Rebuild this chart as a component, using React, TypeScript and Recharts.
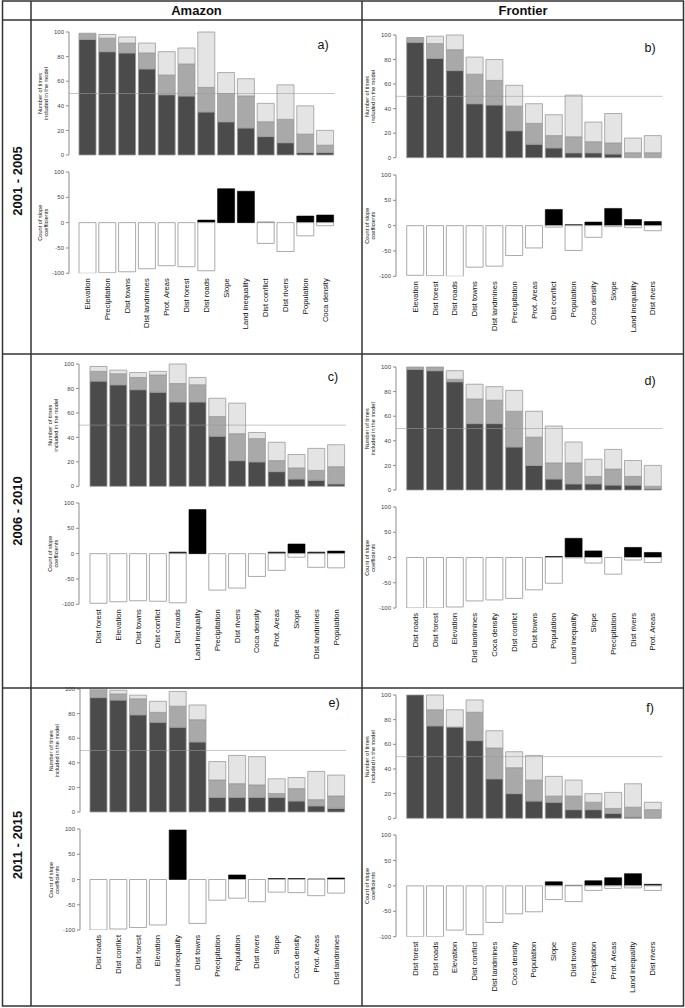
import React from 'react';
import { BarChart, Bar, XAxis, YAxis, ReferenceLine } from 'recharts';

const FONT = '"Liberation Sans", Arial, Helvetica, sans-serif';
const DARK = '#4b4b4b';
const MID = '#a9a9a9';
const LIGHT = '#e4e4e4';
const EDGE = '#9a9a9a';
const AXIS = '#8c8c8c';
const PITCH = 19.8;
const YW = 40;

// a) Amazon 2001 - 2005
const catsA = ['Elevation', 'Precipitation', 'Dist towns', 'Dist landmines', 'Prot. Areas', 'Dist forest', 'Dist roads', 'Slope', 'Land inequality', 'Dist conflict', 'Dist rivers', 'Population', 'Coca density'];
const darkA = [94, 84, 83, 70, 49, 48, 35, 27, 22, 15, 10, 2, 2];
const midA = [5, 11, 8, 13, 16, 26, 20, 23, 26, 12, 19, 15, 6];
const lightA = [0, 3, 5, 8, 19, 13, 45, 17, 14, 15, 28, 23, 12];
const posA = [0, 0, 0, 0, 0, 0, 5, 67, 62, 1, 0, 13, 15];
const negA = [-100, -99, -97, -91, -85, -87, -95, 0, 0, -41, -57, -26, -6];

// b) Frontier 2001 - 2005
const catsB = ['Elevation', 'Dist forest', 'Dist roads', 'Dist towns', 'Dist landmines', 'Precipitation', 'Prot. Areas', 'Dist conflict', 'Population', 'Coca density', 'Slope', 'Land inequality', 'Dist rivers'];
const darkB = [94, 81, 71, 44, 43, 22, 11, 8, 4, 4, 3, 0, 0];
const midB = [4, 12, 17, 24, 20, 20, 17, 10, 13, 9, 9, 4, 4];
const lightB = [0, 6, 12, 14, 17, 17, 16, 17, 34, 16, 24, 12, 14];
const posB = [0, 0, 0, 0, 0, 0, 0, 32, 2, 7, 34, 12, 8];
const negB = [-98, -99, -100, -82, -80, -59, -44, -3, -49, -23, -2, -4, -10];

// c) Amazon 2006 - 2010
const catsC = ['Dist forest', 'Elevation', 'Dist towns', 'Dist conflict', 'Dist roads', 'Land inequality', 'Precipitation', 'Dist rivers', 'Coca density', 'Prot. Areas', 'Slope', 'Dist landmines', 'Population'];
const darkC = [86, 83, 79, 77, 69, 69, 41, 21, 20, 12, 6, 5, 2];
const midC = [8, 9, 10, 14, 15, 14, 16, 22, 19, 9, 9, 8, 14];
const lightC = [4, 3, 4, 3, 16, 6, 15, 25, 5, 15, 11, 18, 18];
const posC = [0, 0, 0, 0, 3, 87, 0, 0, 0, 3, 19, 3, 5];
const negC = [-98, -95, -93, -94, -97, 0, -72, -68, -45, -33, -7, -27, -28];

// d) Frontier 2006 - 2010
const catsD = ['Dist roads', 'Dist forest', 'Elevation', 'Dist landmines', 'Coca density', 'Dist conflict', 'Dist towns', 'Population', 'Land inequality', 'Slope', 'Precipitation', 'Dist rivers', 'Prot. Areas'];
const darkD = [98, 97, 88, 54, 54, 35, 20, 9, 5, 5, 4, 4, 1];
const midD = [2, 3, 2, 20, 19, 29, 23, 13, 17, 6, 13, 7, 2];
const lightD = [0, 0, 7, 12, 11, 17, 21, 30, 17, 14, 16, 13, 17];
const posD = [0, 0, 0, 0, 0, 0, 0, 2, 38, 13, 0, 20, 10];
const negD = [-100, -100, -98, -86, -84, -81, -64, -51, -1, -11, -33, -5, -10];

// e) Amazon 2011 - 2015
const catsE = ['Dist roads', 'Dist conflict', 'Dist forest', 'Elevation', 'Land inequality', 'Dist towns', 'Precipitation', 'Population', 'Dist rivers', 'Slope', 'Coca density', 'Prot. Areas', 'Dist landmines'];
const darkE = [93, 91, 79, 73, 69, 57, 12, 12, 12, 12, 9, 5, 3];
const midE = [6, 5, 13, 8, 17, 18, 14, 11, 10, 3, 10, 5, 10];
const lightE = [1, 3, 3, 9, 12, 12, 15, 23, 23, 12, 9, 23, 17];
const posE = [0, 0, 0, 0, 98, 0, 0, 9, 0, 2, 2, 1, 3];
const negE = [-100, -98, -95, -90, 0, -87, -41, -37, -44, -25, -26, -32, -27];

// f) Frontier 2011 - 2015
const catsF = ['Dist forest', 'Dist roads', 'Elevation', 'Dist conflict', 'Dist landmines', 'Coca density', 'Population', 'Slope', 'Dist towns', 'Precipitation', 'Prot. Areas', 'Land inequality', 'Dist rivers'];
const darkF = [100, 75, 74, 63, 32, 20, 14, 13, 7, 7, 4, 1, 0];
const midF = [0, 13, 0, 23, 25, 21, 17, 5, 11, 6, 4, 8, 7];
const lightF = [0, 12, 14, 10, 14, 13, 20, 16, 13, 7, 13, 19, 6];
const posF = [0, 0, 0, 0, 0, 0, 0, 8, 1, 10, 16, 24, 3];
const negF = [-100, -100, -87, -96, -72, -55, -51, -27, -31, -9, -5, -4, -9];

const topTicks = [0, 20, 40, 60, 80, 100];
const slopeTicks = [-100, -50, 0, 50, 100];
const columns = ['Amazon', 'Frontier'];
const periods = ['2001 - 2005', '2006 - 2010', '2011 - 2015'];

type Panel = {
  letter: string;
  cats: string[];
  dark: number[];
  mid: number[];
  light: number[];
  pos: number[];
  neg: number[];
  ax: number;
  pad: number;
  top100: number;
  top0: number;
  bot100: number;
  botM100: number;
};

const panels: Panel[] = [
  { letter: 'a)', cats: catsA, dark: darkA, mid: midA, light: lightA, pos: posA, neg: negA, ax: 69, pad: 8.45, top100: 32, top0: 155, bot100: 172, botM100: 273.3 },
  { letter: 'b)', cats: catsB, dark: darkB, mid: midB, light: lightB, pos: posB, neg: negB, ax: 396, pad: 9.15, top100: 35, top0: 157.7, bot100: 175, botM100: 276.3 },
  { letter: 'c)', cats: catsC, dark: darkC, mid: midC, light: lightC, pos: posC, neg: negC, ax: 79, pad: 9.45, top100: 364, top0: 486.3, bot100: 503, botM100: 604.3 },
  { letter: 'd)', cats: catsD, dark: darkD, mid: midD, light: lightD, pos: posD, neg: negD, ax: 396, pad: 9.15, top100: 367.3, top0: 490.3, bot100: 507.3, botM100: 608.3 },
  { letter: 'e)', cats: catsE, dark: darkE, mid: midE, light: lightE, pos: posE, neg: negE, ax: 80, pad: 8.45, top100: 689.3, top0: 812.3, bot100: 829.3, botM100: 930.3 },
  { letter: 'f)', cats: catsF, dark: darkF, mid: midF, light: lightF, pos: posF, neg: negF, ax: 396, pad: 9.15, top100: 695, top0: 818.3, bot100: 835, botM100: 936.7 },
];

const tickStyle = { fontSize: 6, fill: '#444', fontFamily: FONT };

const CatTick = (props: any) => {
  const { x, y, payload } = props;
  return (
    <text
      x={x}
      y={y}
      transform={`rotate(-90 ${x} ${y})`}
      textAnchor="end"
      dy="0.35em"
      fontSize={7.6}
      fontFamily={FONT}
      fill="#111"
    >
      {payload.value}
    </text>
  );
};

function TopChart({ p }: { p: Panel }) {
  const data = p.cats.map((c, i) => ({ name: c, dark: p.dark[i], mid: p.mid[i], light: p.light[i] }));
  const plotH = p.top0 - p.top100;
  const plotW = p.pad + PITCH * p.cats.length;
  return (
    <div style={{ position: 'absolute', left: p.ax - YW, top: p.top100 - 6 }}>
      <BarChart
        width={YW + plotW + 4}
        height={plotH + 12}
        data={data}
        margin={{ top: 6, right: 4, bottom: 6, left: 0 }}
        barCategoryGap={1.55}
      >
        <XAxis dataKey="name" hide padding={{ left: p.pad, right: 0 }} />
        <YAxis
          domain={[0, 100]}
          ticks={topTicks}
          interval={0}
          width={YW}
          tickSize={3}
          tickMargin={2}
          axisLine={{ stroke: AXIS }}
          tickLine={{ stroke: AXIS }}
          tick={tickStyle}
        />
        <Bar dataKey="dark" stackId="s" fill={DARK} stroke={EDGE} strokeWidth={0.8} isAnimationActive={false} />
        <Bar dataKey="mid" stackId="s" fill={MID} stroke={EDGE} strokeWidth={0.8} isAnimationActive={false} />
        <Bar dataKey="light" stackId="s" fill={LIGHT} stroke={EDGE} strokeWidth={0.8} isAnimationActive={false} />
        <ReferenceLine y={50} stroke="#9a9a9a" strokeOpacity={0.7} strokeWidth={0.8} />
      </BarChart>
    </div>
  );
}

function SlopeChart({ p }: { p: Panel }) {
  const data = p.cats.map((c, i) => ({ name: c, pos: p.pos[i], neg: p.neg[i] }));
  const plotH = p.botM100 - p.bot100;
  const plotW = p.pad + PITCH * p.cats.length;
  return (
    <div style={{ position: 'absolute', left: p.ax - YW, top: p.bot100 - 6 }}>
      <BarChart
        width={YW + plotW + 4}
        height={plotH + 6 + 68}
        data={data}
        margin={{ top: 6, right: 4, bottom: 0, left: 0 }}
        stackOffset="sign"
        barCategoryGap={1.55}
      >
        <XAxis
          dataKey="name"
          padding={{ left: p.pad, right: 0 }}
          axisLine={false}
          tickLine={false}
          tickSize={0}
          tickMargin={5}
          height={68}
          interval={0}
          tick={<CatTick />}
        />
        <YAxis
          domain={[-100, 100]}
          ticks={slopeTicks}
          interval={0}
          allowDataOverflow
          width={YW}
          tickSize={3}
          tickMargin={2}
          axisLine={{ stroke: AXIS }}
          tickLine={{ stroke: AXIS }}
          tick={tickStyle}
        />
        <Bar dataKey="pos" stackId="s" fill="#000" stroke="#000" strokeWidth={0.6} isAnimationActive={false} />
        <Bar dataKey="neg" stackId="s" fill="#fff" stroke="#aaaaaa" strokeWidth={1} isAnimationActive={false} />
      </BarChart>
    </div>
  );
}

function RotText({ x, y, size, bold, children }: { x: number; y: number; size: number; bold?: boolean; children: string }) {
  return (
    <text
      x={x}
      y={y}
      transform={`rotate(-90 ${x} ${y})`}
      textAnchor="middle"
      dy="0.35em"
      fontSize={size}
      fontWeight={bold ? 'bold' : 'normal'}
      fontFamily={FONT}
      fill="#111"
    >
      {children}
    </text>
  );
}

function Frame() {
  const rows = [20, 354, 688];
  const rowMid = [181, 511, 845];
  return (
    <svg width={685} height={1008} style={{ position: 'absolute', left: 0, top: 0, pointerEvents: 'none' }}>
      <rect x={2.5} y={1} width={681} height={1005} fill="none" stroke="#333" strokeWidth={1.5} />
      <line x1={31} y1={1} x2={31} y2={1006} stroke="#333" strokeWidth={1.5} />
      <line x1={362} y1={1} x2={362} y2={1006} stroke="#333" strokeWidth={1.5} />
      {rows.map((y) => (
        <line key={y} x1={2.5} y1={y} x2={683.5} y2={y} stroke="#333" strokeWidth={1.5} />
      ))}
      <text x={196.5} y={14.5} textAnchor="middle" fontSize={13} fontWeight="bold" fontFamily={FONT} fill="#111">
        {columns[0]}
      </text>
      <text x={523} y={14.5} textAnchor="middle" fontSize={13} fontWeight="bold" fontFamily={FONT} fill="#111">
        {columns[1]}
      </text>
      {periods.map((t, i) => (
        <RotText key={t} x={17} y={rowMid[i]} size={13} bold>
          {t}
        </RotText>
      ))}
      {panels.map((p) => (
        <g key={p.letter}>
          <text x={p.ax + 254} y={p.top100 + 13} dy="0.35em" textAnchor="middle" fontSize={12.5} fontFamily={FONT} fill="#111">
            {p.letter}
          </text>
          <RotText x={p.ax - 29} y={(p.top100 + p.top0) / 2} size={5.6}>Number of times</RotText>
          <RotText x={p.ax - 23} y={(p.top100 + p.top0) / 2} size={5.6}>included in the model</RotText>
          <RotText x={p.ax - 29} y={(p.bot100 + p.botM100) / 2} size={5.6}>Count of slope</RotText>
          <RotText x={p.ax - 23} y={(p.bot100 + p.botM100) / 2} size={5.6}>coefficients</RotText>
        </g>
      ))}
    </svg>
  );
}

export default function App() {
  return (
    <div style={{ position: 'absolute', left: 0, top: 0, width: 685, height: 1008, background: '#fff', fontFamily: FONT }}>
      {panels.map((p) => (
        <React.Fragment key={p.letter}>
          <TopChart p={p} />
          <SlopeChart p={p} />
        </React.Fragment>
      ))}
      <Frame />
    </div>
  );
}
